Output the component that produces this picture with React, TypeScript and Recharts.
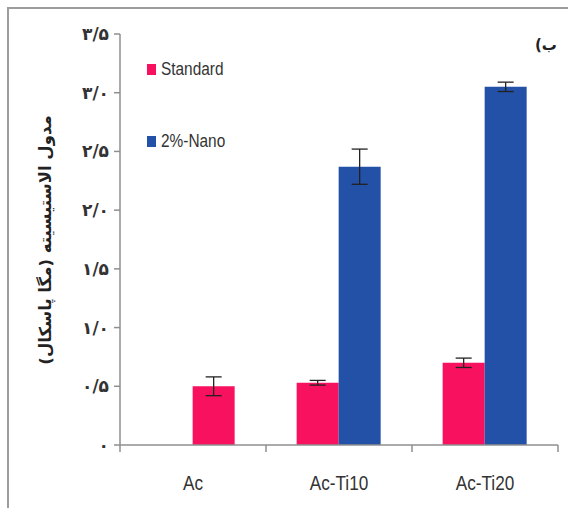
import React from "react";
import {
  Bar,
  BarChart,
  Cell,
  ErrorBar,
  Legend,
  XAxis,
  YAxis
} from "recharts";

const categories = ["Ac", "Ac-Ti10", "Ac-Ti20"];
const standardValues = [0.5, 0.53, 0.7];
const standardErrors = [0.08, 0.02, 0.04];
const nanoValues: (number | null)[] = [null, 2.37, 3.05];
const nanoErrors: (number | null)[] = [null, 0.15, 0.04];
const yTicks = [0, 0.5, 1, 1.5, 2, 2.5, 3, 3.5];
const yTickLabels = ["۰", "۰/۵", "۱/۰", "۱/۵", "۲/۰", "۲/۵", "۳/۰", "۳/۵"];
const seriesNames = ["Standard", "2%-Nano"];
const yTitle = "مدول الاستیسیته (مگا پاسکال)";
const panelTag = "ب)";

const PINK = "#F7115E";
const BLUE = "#2251A7";
const AXIS = "#8f8f8f";
const FRAME = "#9c9c9c";
const SANS = "'Liberation Sans', Arial, sans-serif";

// where a group has no nano bar, the reference draws the standard bar in the second slot
const data = categories.map((name, i) => {
  const lone = nanoValues[i] == null;
  return {
    name,
    std: lone ? null : standardValues[i],
    stdErr: lone ? null : standardErrors[i],
    nano: lone ? standardValues[i] : nanoValues[i],
    nanoErr: lone ? standardErrors[i] : nanoErrors[i],
    lone
  };
});

// category label plus the between-category tick marks (Excel style)
function CatTick(props: any) {
  const { x, y, width, visibleTicksCount, index, payload } = props;
  const band = width / (visibleTicksCount || categories.length);
  return (
    <g>
      {index === 0 ? <line x1={x - band / 2} x2={x - band / 2} y1={y} y2={y + 7} stroke={AXIS} strokeWidth={1.5} /> : null}
      <line x1={x + band / 2} x2={x + band / 2} y1={y} y2={y + 7} stroke={AXIS} strokeWidth={1.5} />
      <text
        x={x}
        y={y + 38}
        dy="0.35em"
        textAnchor="middle"
        fill="#333"
        fontFamily={SANS}
        fontSize={20}
        transform={`translate(${x} 0) scale(0.86 1) translate(${-x} 0)`}
      >
        {payload.value}
      </text>
    </g>
  );
}

function LegendBox(props: any) {
  const items = [...(props.payload || [])].sort(
    (a: any, b: any) => seriesNames.indexOf(a.value) - seriesNames.indexOf(b.value)
  );
  return (
    <div>
      {items.map((it: any, i: number) => (
        <div key={i} style={{ display: "flex", alignItems: "center", height: 20, marginBottom: i === 0 ? 52 : 0 }}>
          <span style={{ display: "inline-block", width: 9, height: 11, background: it.color, marginRight: 5 }} />
          <span
            style={{
              display: "inline-block",
              fontFamily: SANS,
              fontSize: 17.5,
              color: "#333",
              transform: "scaleX(0.88)",
              transformOrigin: "left center",
              whiteSpace: "nowrap"
            }}
          >
            {it.value}
          </span>
        </div>
      ))}
    </div>
  );
}

export default function App() {
  return (
    <div style={{ position: "absolute", left: 0, top: 0, width: 568, height: 508, background: "#fff" }}>
      <div style={{ position: "absolute", left: 0, top: 0 }}>
        <BarChart
          width={568}
          height={508}
          data={data}
          margin={{ top: 34, right: 10, bottom: 33, left: 60 }}
          barCategoryGap="21%"
          barGap={0}
        >
          <XAxis
            dataKey="name"
            height={30}
            stroke={AXIS}
            strokeWidth={1.5}
            tickLine={false}
            tickSize={0}
            tickMargin={0}
            tick={<CatTick />}
            interval={0}
          />
          <YAxis
            domain={[0, 3.5]}
            ticks={yTicks}
            tickFormatter={(v: number) => yTickLabels[yTicks.indexOf(v)]}
            width={60}
            stroke={AXIS}
            strokeWidth={1.5}
            tickSize={6}
            tickMargin={5}
            tick={{ fill: "#333", fontSize: 17, fontWeight: "bold", fontFamily: "'DejaVu Sans', sans-serif" }}
            label={{
              content: () => (
                <text
                  x={45}
                  y={240}
                  transform="rotate(-90 45 240)"
                  textAnchor="middle"
                  dy="0.35em"
                  fill="#222"
                  fontFamily="'DejaVu Sans', sans-serif"
                  fontWeight="bold"
                  fontSize={16.5}
                  direction="rtl"
                >
                  {yTitle}
                </text>
              )
            }}
          />
          <Legend
            layout="vertical"
            align="center"
            verticalAlign="middle"
            wrapperStyle={{ left: 147, top: 59, width: 130 }}
            content={<LegendBox />}
          />
          <Bar dataKey="std" name={seriesNames[0]} fill={PINK} isAnimationActive={false}>
            <ErrorBar dataKey="stdErr" width={8} stroke="#222" strokeWidth={1.3} />
          </Bar>
          <Bar dataKey="nano" name={seriesNames[1]} fill={BLUE} isAnimationActive={false}>
            {data.map((d, i) => (
              <Cell key={i} fill={d.lone ? PINK : BLUE} />
            ))}
            <ErrorBar dataKey="nanoErr" width={8} stroke="#222" strokeWidth={1.3} />
          </Bar>
        </BarChart>
      </div>
      <div style={{ position: "absolute", left: 7, top: 7, width: 561, height: 2, background: FRAME, zIndex: 5 }} />
      <div style={{ position: "absolute", left: 7, top: 7, width: 2, height: 501, background: FRAME, zIndex: 5 }} />
      <div
        dir="rtl"
        style={{ position: "absolute", left: 535, top: 36, fontFamily: "'DejaVu Sans', sans-serif", fontWeight: "bold", fontSize: 15, color: "#222" }}
      >
        {panelTag}
      </div>
    </div>
  );
}
